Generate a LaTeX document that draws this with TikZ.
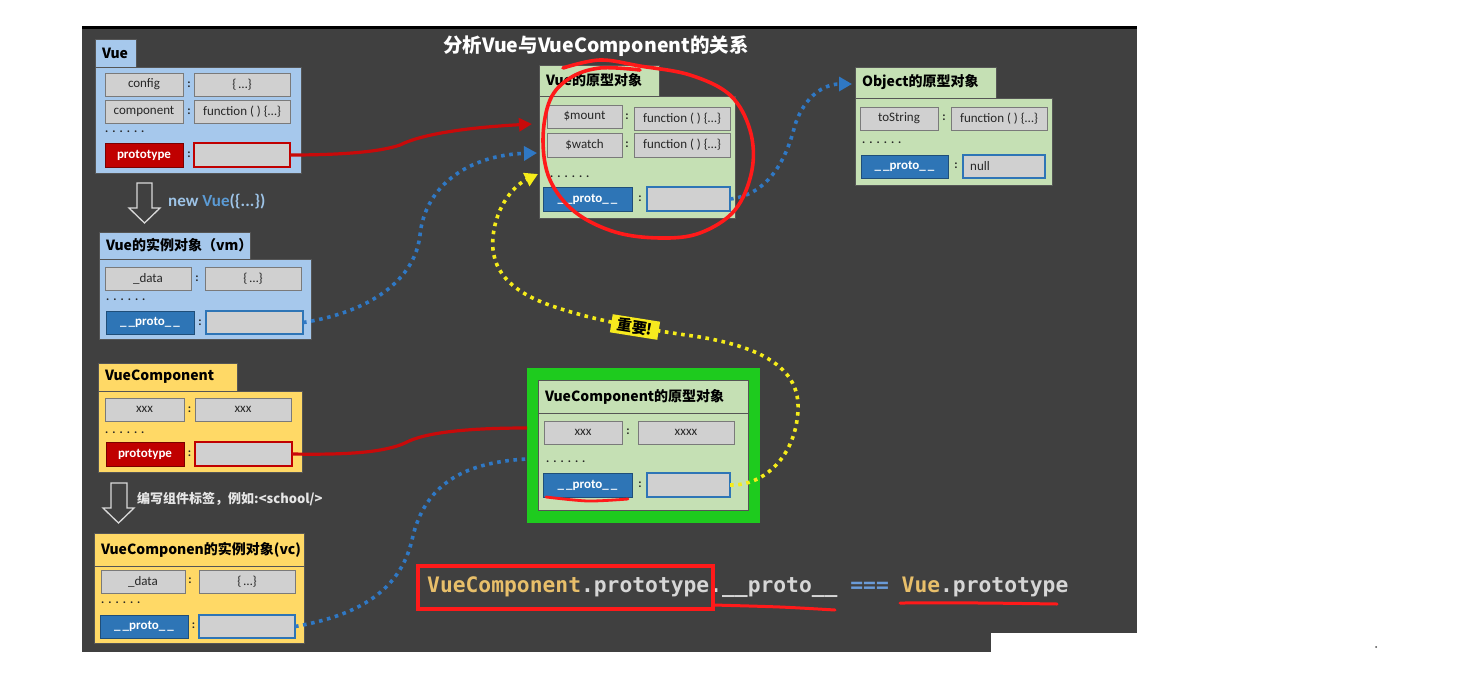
\documentclass[tikz,border=0pt]{standalone}
\usepackage{fontspec}
\setmainfont{Carlito}
\newfontfamily\cjk{Noto Sans CJK SC}
\newfontfamily\codefont{DejaVu Sans Mono}
\usetikzlibrary{arrows.meta}
\definecolor{bgdark}{HTML}{404040}
\definecolor{keyfill}{HTML}{D0D0D0}
\definecolor{keyborder}{HTML}{7A7A7A}
\definecolor{keytext}{HTML}{262626}
\definecolor{redk}{HTML}{C00000}
\definecolor{redkd}{HTML}{7A0000}
\definecolor{bluek}{HTML}{2E75B6}
\definecolor{bluekd}{HTML}{1F4E79}
\definecolor{lblue}{HTML}{A6C8EC}
\definecolor{lyellow}{HTML}{FFD966}
\definecolor{lgreen}{HTML}{C5E0B4}
\definecolor{gframecol}{HTML}{1ECB1E}
\definecolor{boxborder}{HTML}{555555}
\definecolor{conred}{HTML}{C80A0A}
\definecolor{handred}{HTML}{FF1A1A}
\definecolor{dotblue}{HTML}{2F78C4}
\definecolor{dotyellow}{HTML}{F5EC1A}
\definecolor{impyellow}{HTML}{F7EA1E}
\definecolor{arrowgray}{HTML}{D9D9D9}
\definecolor{newblue}{HTML}{9DC3E6}
\definecolor{vueblue}{HTML}{5B9BD5}
\definecolor{lighttext}{HTML}{E6E6E6}
\definecolor{codegold}{HTML}{E8BF6A}
\definecolor{codegray}{HTML}{D6D6D6}
\definecolor{codeblue}{HTML}{6A9BD8}
\newcommand\bx[7]{\node[#1,anchor=north west,minimum width={(#5-#3)*1pt},minimum height={(#6-#4)*1pt}] (#2) at (#3,#4) {#7};}
\newcommand\tb[7]{\pgfmathsetmacro\tbw{#5-#3-14}\node[#1,anchor=north west,text width=\tbw pt,minimum height={(#6-#4)*1pt}] (#2) at (#3,#4) {#7};}
\newcommand\cln[3]{\node[colonst] (#1) at (#2,#3) {:};}
\newcommand\sixdots{.\hspace{4pt}.\hspace{4pt}.\hspace{4pt}.\hspace{4pt}.\hspace{4pt}.}
\newcommand\dts[3]{\node[dotst,anchor=west] (#1) at (#2,#3) {\sixdots};}
\newcommand\prt{\_\hspace{2pt}\_proto\_\hspace{2pt}\_}
\tikzset{
 base/.style={inner sep=0pt, outer sep=0pt, line width=0.8pt},
 keyb/.style={base, draw=keyborder, fill=keyfill, text=keytext, font=\fontsize{13}{15}\selectfont},
 redkey/.style={base, draw=redkd, fill=redk, text=white, font=\bfseries\fontsize{13}{15}\selectfont},
 bluekey/.style={base, draw=bluekd, fill=bluek, text=white, font=\bfseries\fontsize{13}{15}\selectfont},
 redval/.style={base, draw=redk, fill=keyfill, line width=2.2pt},
 blueval/.style={base, draw=bluek, fill=keyfill, line width=2.2pt},
 bluebody/.style={base, draw=boxborder, fill=lblue},
 yelbody/.style={base, draw=boxborder, fill=lyellow},
 grnbody/.style={base, draw=boxborder, fill=lgreen},
 gframe/.style={base, fill=gframecol},
 hdr/.style={align=left, inner xsep=7pt, inner ysep=0pt, outer sep=0pt, line width=0.8pt, draw=boxborder, text=black, font=\cjk\bfseries\fontsize{14}{16}\selectfont},
 bluehdr/.style={hdr, fill=lblue},
 yelhdr/.style={hdr, fill=lyellow},
 grnhdr/.style={hdr, fill=lgreen},
 colonst/.style={inner sep=0pt, text=keytext, font=\bfseries\fontsize{12}{14}\selectfont},
 dotst/.style={inner sep=0pt, text=keytext, font=\bfseries\fontsize{12}{13}\selectfont},
 hollowarrow/.style={draw=arrowgray, line width=1.3pt, line join=miter},
 redcon/.style={draw=conred, line width=3.2pt},
 redarrow/.style={redcon, -{Triangle[length=13pt,width=13pt]}},
 bluedot/.style={draw=dotblue, line width=3.6pt, dash pattern=on 3.6pt off 4.6pt},
 bluedotarrow/.style={bluedot, -{Triangle[length=13pt,width=14pt]}},
 yeldotarrow/.style={draw=dotyellow, line width=3.6pt, dash pattern=on 3.6pt off 4.6pt, -{Triangle[length=13pt,width=14pt]}},
 handmark/.style={draw=handred, line width=3.6pt, line cap=round, line join=round},
}
\begin{document}
\begin{tikzpicture}[x=1pt,y=-1pt]
\useasboundingbox (0,0) rectangle (1478,673);
\fill[white] (0,0) rectangle (1478,673);
\fill[bgdark] (82,27) rectangle (1137,633);
\fill[bgdark] (82,633) rectangle (991,652);
\fill[black] (82,25.5) rectangle (1137,29);
\fill[black!70] (1376,647) circle (1);

% title
\node[text=white, font=\cjk\bfseries\fontsize{19.5}{23}\selectfont] (title) at (596,46) {分析Vue与VueComponent的关系};

% Vue
\bx{bluebody}{vuebody}{95}{67}{301}{173}{}
\tb{bluehdr}{vuetab}{95}{39}{136}{67}{Vue}
\bx{keyb}{vcfg}{105}{73}{183}{96}{config}
\cln{va1}{189}{85}
\bx{keyb}{vcfgv}{194}{73}{290}{96}{\{\,…\}}
\bx{keyb}{vcomp}{105}{100}{183}{123}{component}
\cln{va2}{189}{112}
\bx{keyb}{vcompv}{194}{100}{290}{123}{function ( ) \{…\}}
\dts{vad}{105}{132}
\bx{redkey}{vproto}{105}{143}{183}{167}{prototype}
\cln{va3}{189}{155}
\bx{redval}{vprotov}{194}{143}{290}{167}{}

% arrow new Vue
\draw[hollowarrow] (137,183) -- (152,183) -- (152,208) -- (160,208) -- (144.5,223) -- (129,208) -- (137,208) -- cycle;
\node[anchor=west, inner sep=0pt, font=\bfseries\fontsize{17}{20}\selectfont] (newvue) at (168,201) {\textcolor{newblue}{new} \textcolor{vueblue}{Vue}\textcolor{newblue}{(\{...\})}};

% vm
\bx{bluebody}{vmbody}{99}{259}{311}{339}{}
\tb{bluehdr}{vmtab}{99}{232}{250}{259}{Vue的实例对象（vm）}
\bx{keyb}{vmdata}{105}{267}{191}{290}{\_data}
\cln{vm1}{197}{279}
\bx{keyb}{vmdatav}{205}{267}{301}{290}{\{\,…\}}
\dts{vmd}{106}{300}
\bx{bluekey}{vmproto}{106}{311}{194}{334}{\prt}
\cln{vm2}{200}{323}
\bx{blueval}{vmprotov}{206}{311}{303}{334}{}

% VueComponent
\bx{yelbody}{ycbody}{98}{391}{302}{472}{}
\tb{yelhdr}{yctab}{98}{363}{237}{391}{VueComponent}
\bx{keyb}{ycx}{105}{398}{184}{421}{xxx}
\cln{yc1}{189.5}{409.5}
\bx{keyb}{ycxv}{195}{398}{291}{421}{xxx}
\dts{ycd}{105}{433}
\bx{redkey}{ycproto}{106}{442}{184}{466}{prototype}
\cln{yc2}{189.5}{454}
\bx{redval}{ycprotov}{195}{442}{292}{466}{}

% arrow write tag
\draw[hollowarrow] (111,483) -- (127,483) -- (127,508) -- (134,508) -- (118.5,523) -- (103,508) -- (111,508) -- cycle;
\node[anchor=west, inner sep=0pt, text=lighttext, font=\cjk\bfseries\fontsize{13}{15}\selectfont] (writetag) at (137,499) {编写组件标签，例如:<school/>};

% vc
\bx{yelbody}{vcbody}{94}{566}{304}{643}{}
\tb{yelhdr}{vchead}{94}{533}{304}{566}{VueComponen的实例对象(vc)}
\bx{keyb}{vcdata}{101}{570}{185}{593}{\_data}
\cln{vc1}{190}{581}
\bx{keyb}{vcdatav}{199}{570}{295}{593}{\{\,…\}}
\dts{vcd}{101}{603}
\bx{bluekey}{vcproto}{100}{615}{188}{638}{\prt}
\cln{vc2}{193.5}{626}
\bx{blueval}{vcprotov}{199}{615}{295}{638}{}

% Vue prototype object
\bx{grnbody}{vpbody}{539}{96}{735}{218}{}
\tb{grnhdr}{vptab}{539}{65}{659}{96}{Vue的原型对象}
\bx{keyb}{vpmount}{547}{105}{622}{128}{\$mount}
\cln{vp1}{627}{117}
\bx{keyb}{vpmountv}{634}{107}{730}{130}{function ( ) \{…\}}
\bx{keyb}{vpwatch}{547}{133}{622}{157}{\$watch}
\cln{vp2}{627}{145}
\bx{keyb}{vpwatchv}{634}{133}{730}{157}{function ( ) \{…\}}
\dts{vpd}{550}{177}
\bx{bluekey}{vpproto}{543}{187}{632}{211}{\prt}
\cln{vp3}{640}{199}
\bx{blueval}{vpprotov}{647}{187}{730}{211}{}

% Object prototype object
\bx{grnbody}{obody}{855}{98}{1052}{185}{}
\tb{grnhdr}{otab}{855}{67}{996}{98}{Object的原型对象}
\bx{keyb}{ostr}{860}{107}{938}{130}{toString}
\cln{ob1}{944}{118}
\bx{keyb}{ostrv}{951}{107}{1047}{130}{function ( ) \{…\}}
\dts{obd}{862}{143}
\bx{bluekey}{oproto}{861}{155}{948}{178}{\prt}
\cln{ob2}{956}{166}
\bx{blueval}{oprotov}{963}{155}{1045}{178}{}
\node[anchor=west, inner sep=0pt, text=keytext, font=\fontsize{13}{15}\selectfont] (onull) at (970,166.5) {null};

% VueComponent prototype object
\bx{gframe}{cframe}{527}{368}{760}{523}{}
\bx{grnbody}{cbody}{538}{413}{748}{510}{}
\tb{grnhdr}{chead}{538}{380}{748}{413}{VueComponent的原型对象}
\bx{keyb}{cx}{544}{421}{622}{444}{xxx}
\cln{cp1}{628}{432}
\bx{keyb}{cxv}{638}{421}{734}{444}{xxxx}
\dts{cpd}{546}{462}
\bx{bluekey}{cproto}{543}{473}{632}{497}{\prt}
\cln{cp2}{640}{485}
\bx{blueval}{cprotov}{647}{473}{730}{497}{}

% connector end points
\coordinate (t1) at (532,124);
\coordinate (t2) at (537,153);
\coordinate (t3) at (538,174);
\coordinate (t4) at (527,428);
\coordinate (t5) at (527,459);
\coordinate (t6) at (852,84);

% connectors
\draw[redarrow] (vprotov.east) .. controls (340,155) and (380,152) .. (400,145) .. controls (420,135) and (460,128) .. (t1);
\draw[bluedotarrow] (vmprotov.east) .. controls (370,312) and (415,280) .. (420,235) .. controls (425,185) and (470,155) .. (t2);
\draw[redcon] (ycprotov.east) .. controls (350,455) and (385,452) .. (405,443) .. controls (425,432) and (470,428) .. (t4);
\draw[bluedot] (vcprotov.east) .. controls (360,615) and (400,590) .. (412,540) .. controls (425,480) and (470,462) .. (t5);
\draw[yeldotarrow] (cprotov.east) .. controls (765,486) and (796,455) .. (798,410) .. controls (800,370) and (765,348) .. (700,337) .. controls (650,330) and (600,322) .. (555,307) .. controls (510,292) and (490,270) .. (493,237) .. controls (496,205) and (515,185) .. (t3);
\draw[bluedotarrow] (vpprotov.east) .. controls (765,195) and (785,165) .. (795,125) .. controls (805,95) and (825,84) .. (t6);

\node[fill=impyellow, text=black, rotate=-9, inner xsep=6pt, inner ysep=2pt, font=\cjk\bfseries\fontsize{15}{17}\selectfont] (imp) at (635,327) {重要!};

% code line
\node[anchor=west, inner sep=0pt, font=\codefont\bfseries\fontsize{21.3}{24}\selectfont] (code) at (427,587) {\textcolor{codegold}{VueComponent}\textcolor{codegray}{.prototype.\_\_proto\_\_} \textcolor{codeblue}{===} \textcolor{codegold}{Vue}\textcolor{codegray}{.prototype}};

% hand-drawn marks
\draw[handmark] plot[smooth, tension=0.6] coordinates {(563,68) (600,60) (640,66) (690,75) (730,95) (750,130) (752,170) (735,210) (700,233) (660,238) (615,232) (575,212) (550,180) (543,140) (550,100) (570,78) (600,68) (640,70)};
\draw[handmark, line width=2.8pt] plot[smooth] coordinates {(546,497) (588,501) (628,499)};
\draw[handred, line width=4pt] (418,566) rectangle (713,609);
\draw[handmark, line width=3pt] plot[smooth] coordinates {(713,605) (780,607) (835,610)};
\draw[handmark, line width=3pt] plot[smooth] coordinates {(900,603) (980,603) (1057,604)};
\end{tikzpicture}
\end{document}
